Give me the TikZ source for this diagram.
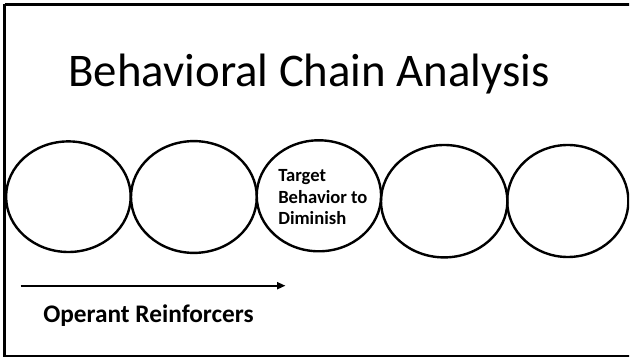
\documentclass[tikz,border=0pt]{standalone}
\usepackage{fontspec}
\setmainfont{Carlito}
\usetikzlibrary{arrows.meta}
\begin{document}
\begin{tikzpicture}[x=1pt,y=-1pt,
  link/.style={draw=black,line width=2.4pt},
  plain/.style={inner sep=0pt,outer sep=0pt}]
\useasboundingbox (0,0) rectangle (630,358);
\clip (0,0) rectangle (629,358);
\draw[line width=2.5pt] (4.7,4.5) -- (660,4.5);
\draw[line width=2.5pt] (4.7,4.5) -- (4.7,356.2) -- (660,356.2);
\node[plain,anchor=base west,font=\fontsize{46.8}{56}\selectfont] (title) at (68.5,87) {Behavioral Chain Analysis};
\coordinate (e1) at (68.4,196.7);
\coordinate (e2) at (193.9,197);
\coordinate (e3) at (318.9,195.8);
\coordinate (e4) at (444.2,201.2);
\coordinate (e5) at (567.8,201);
\draw[link] (e1) ellipse [x radius=62.3pt, y radius=55.3pt];
\draw[link] (e2) ellipse [x radius=62.9pt, y radius=55.9pt];
\draw[link] (e3) ellipse [x radius=62.2pt, y radius=55.5pt];
\draw[link] (e4) ellipse [x radius=63.2pt, y radius=56.2pt];
\draw[link] (e5) ellipse [x radius=60.6pt, y radius=56pt];
\node[plain,anchor=north west,align=left,font=\fontsize{18.6}{21.3}\selectfont\bfseries] (t3) at (278.3,169.8) {Target\\Behavior to\\Diminish};
\coordinate (as) at (20.7,285.7);
\coordinate (ae) at (285.5,285.7);
\draw[line width=2pt,-{Triangle[length=8.5pt,width=7pt]}] (as) -- (ae);
\node[plain,anchor=base west,font=\fontsize{25.3}{30}\selectfont\bfseries] (op) at (43.3,322.5) {Operant Reinforcers};
\end{tikzpicture}
\end{document}
